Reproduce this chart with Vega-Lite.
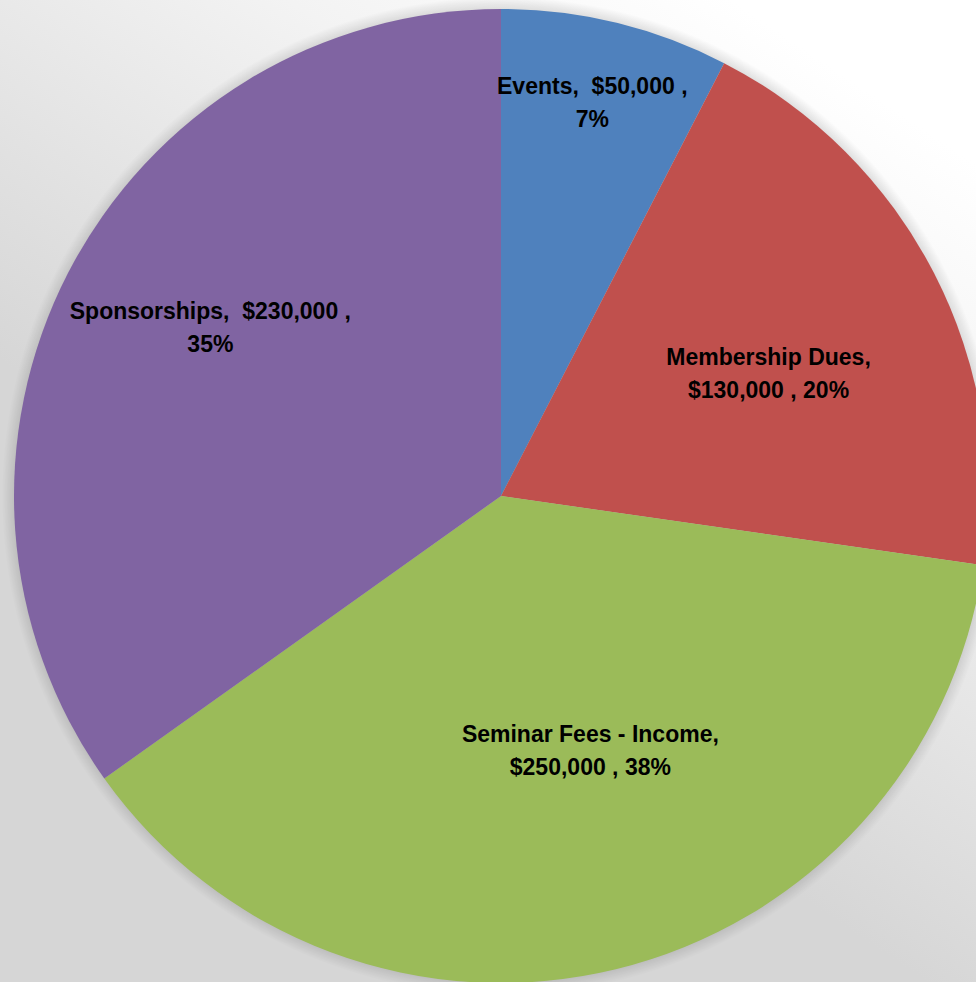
{
  "$schema": "https://vega.github.io/schema/vega-lite/v6.json",
  "width": 950,
  "height": 972,
  "autosize": "none",
  "padding": {"left": 26, "top": 10, "right": 0, "bottom": 0},
  "background": "#dedede",
  "config": {"view": {"stroke": null}},
  "datasets": {
    "pie": [
      {"idx": 1, "category": "Events", "amount": 50000, "label": "Events,\u00a0 $50,000 ,\n7%"},
      {"idx": 2, "category": "Membership Dues", "amount": 130000, "label": "Membership Dues,\n$130,000 , 20%"},
      {"idx": 3, "category": "Seminar Fees - Income", "amount": 250000, "label": "Seminar Fees - Income,\n$250,000 , 38%"},
      {"idx": 4, "category": "Sponsorships", "amount": 230000, "label": "Sponsorships,\u00a0 $230,000 ,\n35%"}
    ],
    "one": [{"k": 1}]
  },
  "layer": [
    {
      "data": {"name": "one"},
      "mark": {
        "type": "rect",
        "fill": {
          "gradient": "linear",
          "x1": 0.75, "y1": 0, "x2": 0.35, "y2": 0.6,
          "stops": [
            {"offset": 0, "color": "#ffffff"},
            {"offset": 0.35, "color": "#f3f3f3"},
            {"offset": 1, "color": "#d6d6d6"}
          ]
        }
      },
      "encoding": {
        "x": {"value": -26},
        "x2": {"value": "width"},
        "y": {"value": -10},
        "y2": {"value": "height"}
      }
    },
    {
      "data": {"name": "one"},
      "mark": {
        "type": "arc",
        "theta": 0,
        "theta2": 6.2832,
        "outerRadius": 499,
        "fill": {
          "gradient": "radial",
          "stops": [
            {"offset": 0.965, "color": "rgba(0,0,0,0.16)"},
            {"offset": 1, "color": "rgba(0,0,0,0)"}
          ]
        }
      },
      "encoding": {}
    },
    {
      "data": {"name": "pie"},
      "mark": {"type": "arc", "outerRadius": 487},
      "encoding": {
        "theta": {"field": "amount", "type": "quantitative", "stack": true},
        "order": {"field": "idx", "type": "quantitative"},
        "color": {
          "field": "category",
          "type": "nominal",
          "scale": {
            "domain": ["Events", "Membership Dues", "Seminar Fees - Income", "Sponsorships"],
            "range": ["#4f81bd", "#c0504d", "#9bbb59", "#8064a2"]
          },
          "legend": null
        }
      }
    },
    {
      "data": {"name": "pie"},
      "mark": {"type": "text", "radius": 421, "dx": -8, "font": "Liberation Sans", "fontWeight": "bold", "fontSize": 23, "lineBreak": "\n", "lineHeight": 33, "align": "center", "baseline": "middle", "color": "#000000"},
      "encoding": {
        "theta": {"field": "amount", "type": "quantitative", "stack": true},
        "order": {"field": "idx", "type": "quantitative"},
        "text": {"condition": {"test": "datum.category === 'Events'", "field": "label"}, "value": ""}
      }
    },
    {
      "data": {"name": "pie"},
      "mark": {"type": "text", "radius": 301, "font": "Liberation Sans", "fontWeight": "bold", "fontSize": 23, "lineBreak": "\n", "lineHeight": 33, "align": "center", "baseline": "middle", "color": "#000000"},
      "encoding": {
        "theta": {"field": "amount", "type": "quantitative", "stack": true},
        "order": {"field": "idx", "type": "quantitative"},
        "text": {"condition": {"test": "datum.category === 'Membership Dues'", "field": "label"}, "value": ""}
      }
    },
    {
      "data": {"name": "pie"},
      "mark": {"type": "text", "radius": 256, "dx": 29, "dy": -10, "font": "Liberation Sans", "fontWeight": "bold", "fontSize": 23, "lineBreak": "\n", "lineHeight": 33, "align": "center", "baseline": "middle", "color": "#000000"},
      "encoding": {
        "theta": {"field": "amount", "type": "quantitative", "stack": true},
        "order": {"field": "idx", "type": "quantitative"},
        "text": {"condition": {"test": "datum.category === 'Seminar Fees - Income'", "field": "label"}, "value": ""}
      }
    },
    {
      "data": {"name": "pie"},
      "mark": {"type": "text", "radius": 345, "dx": 16, "dy": -26, "font": "Liberation Sans", "fontWeight": "bold", "fontSize": 23, "lineBreak": "\n", "lineHeight": 33, "align": "center", "baseline": "middle", "color": "#000000"},
      "encoding": {
        "theta": {"field": "amount", "type": "quantitative", "stack": true},
        "order": {"field": "idx", "type": "quantitative"},
        "text": {"condition": {"test": "datum.category === 'Sponsorships'", "field": "label"}, "value": ""}
      }
    }
  ]
}
